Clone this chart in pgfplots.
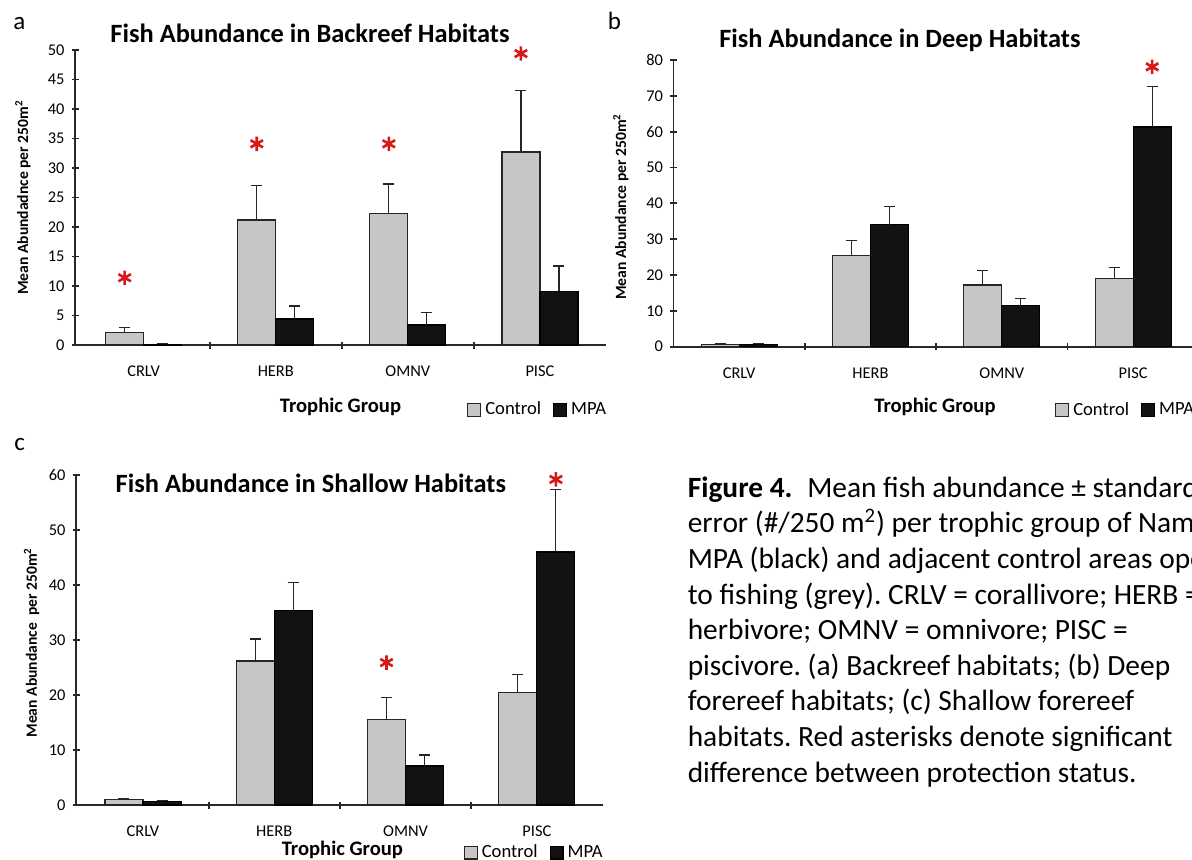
\documentclass[border=0pt]{standalone}
\usepackage{fontspec}
\setmainfont{Carlito}
\usepackage{pgfplots}
\pgfplotsset{compat=1.18}
\usepackage{pgfplotstable}
\frenchspacing

\definecolor{ctrl}{RGB}{198,198,198}
\definecolor{mpa}{RGB}{18,18,18}
\definecolor{star}{RGB}{215,25,25}
\definecolor{axisc}{RGB}{40,40,40}

% Backreef
\pgfplotstableread{
x c ce m me
0 2.1 0.8 0.15 0.05
1 21.2 5.9 4.4 2.2
2 22.3 5.0 3.4 2.1
3 32.7 10.4 9.1 4.3
}\dataA
% Deep
\pgfplotstableread{
x c ce m me
0 0.7 0.3 0.6 0.4
1 25.5 4.2 34.0 5.1
2 17.2 4.0 11.4 2.1
3 19.0 3.0 61.3 11.3
}\dataB
% Shallow
\pgfplotstableread{
x c ce m me
0 1.0 0.2 0.6 0.2
1 26.2 4.0 35.3 5.1
2 15.6 4.0 7.1 2.0
3 20.5 3.2 46.0 11.3
}\dataC

\pgfplotsset{
  fishstyle/.style={
    scale only axis,
    axis lines=left,
    axis line style={-, line width=0.9pt, draw=axisc},
    tick align=center,
    major tick length=3.5pt,
    tick style={line width=0.9pt, draw=axisc},
    xtick={0.5,1.5,2.5}, xticklabels={},
    extra x ticks={0,1,2,3},
    extra x tick labels={CRLV,HERB,OMNV,PISC},
    extra x tick style={tick style={draw=none}},
    xmax=3.5,
    ymin=0,
    clip=false,
    ticklabel style={font=\fontsize{8.2}{9}\selectfont},
    /pgf/number format/assume math mode=true,
    xticklabel style={anchor=base, yshift=-14pt},
    ylabel style={font=\bfseries\fontsize{7.8}{9}\selectfont, anchor=center},
    xlabel style={font=\bfseries\fontsize{10.3}{12}\selectfont, anchor=base},
    title style={font=\bfseries\fontsize{13.2}{15}\selectfont, anchor=base, yshift=-6pt},
    legend style={draw=none, fill=none, anchor=west, inner sep=0pt,
      legend columns=2, font=\fontsize{9.3}{11}\selectfont,
      /tikz/every even column/.append style={column sep=4pt}},
  },
  ctrlbar/.style={ybar, bar width=19pt, bar shift=-9.5pt, fill=ctrl, draw=black!85, line width=0.6pt,
    legend image code/.code={\draw[##1, line width=0.6pt] (0pt,-3.2pt) rectangle (6.4pt,3.2pt);}},
  mpabar/.style={ybar, bar width=19pt, bar shift=9.5pt, fill=mpa, draw=black, line width=0.6pt,
    legend image code/.code={\draw[##1, line width=0.6pt] (0pt,-3.2pt) rectangle (6.4pt,3.2pt);}},
  errs/.style={draw=none, mark=none, forget plot,
    error bars/.cd, y dir=plus, y explicit,
    error bar style={line width=0.6pt, draw=black!85, solid},
    error mark options={rotate=90, mark size=2.75pt, line width=0.6pt, draw=black!85}},
  stars/.style={only marks, mark=asterisk, mark size=3.6pt, mark options={draw=star, line width=1.3pt}, forget plot},
}

\begin{document}
\begin{tikzpicture}
\useasboundingbox (0,0) rectangle (596pt,429.5pt);
\clip (0,0) rectangle (596pt,429.5pt);

% ---------- panel a ----------
\begin{axis}[fishstyle,
  at={(37.5pt,257pt)}, anchor=south west,
  width=265.5pt, height=147.5pt,
  xmin=-0.52, ymax=50, ytick={0,5,...,50},
  title={Fish Abundance in Backreef Habitats},
  title style={at={(axis description cs:0.4426,1.0247)}},
  ylabel={Mean Abundadnce per 250m\textsuperscript{2}},
  ylabel style={at={(axis description cs:-0.098,0.5)}},
  xlabel={Trophic Group},
  xlabel style={at={(axis description cs:0.5,-0.2295)}},
  legend style={at={(axis description cs:0.738,-0.22)}},
]
\addplot[ctrlbar] table[x=x, y=c] {\dataA};
\addplot[mpabar] table[x=x, y=m] {\dataA};
\addplot[errs] table[x expr=\thisrow{x}-0.144, y=c, y error=ce] {\dataA};
\addplot[errs] table[x expr=\thisrow{x}+0.144, y=m, y error=me] {\dataA};
\addplot[stars] coordinates {(-0.144,11.4) (0.856,34.1) (1.856,34.1) (2.856,49.4)};
\legend{Control, MPA}
\end{axis}

% ---------- panel b ----------
\begin{axis}[fishstyle,
  at={(336.75pt,256.15pt)}, anchor=south west,
  width=262.65pt, height=143.35pt,
  xmin=-0.5, ymax=80, ytick={0,10,...,80},
  title={Fish Abundance in Deep Habitats},
  title style={at={(axis description cs:0.431,1.0429)}},
  ylabel={Mean Abundance per 250m\textsuperscript{2}},
  ylabel style={at={(axis description cs:-0.1003,0.488)}},
  xlabel={Trophic Group},
  xlabel style={at={(axis description cs:0.4978,-0.2302)}},
  legend style={at={(axis description cs:0.726,-0.221)}},
]
\addplot[ctrlbar] table[x=x, y=c] {\dataB};
\addplot[mpabar] table[x=x, y=m] {\dataB};
\addplot[errs] table[x expr=\thisrow{x}-0.145, y=c, y error=ce] {\dataB};
\addplot[errs] table[x expr=\thisrow{x}+0.145, y=m, y error=me] {\dataB};
\addplot[stars] coordinates {(3.145,78.1)};
\legend{Control, MPA}
\end{axis}

% ---------- panel c ----------
\begin{axis}[fishstyle,
  at={(38pt,27pt)}, anchor=south west,
  width=263.25pt, height=165pt,
  xmin=-0.51, ymax=60, ytick={0,10,...,60},
  title={Fish Abundance in Shallow Habitats},
  title style={at={(axis description cs:0.446,0.9464)}},
  ylabel={Mean Abundance\ \ per 250m\textsuperscript{2}},
  ylabel style={at={(axis description cs:-0.0843,0.492)}},
  xlabel={Trophic Group},
  xlabel style={at={(axis description cs:0.506,-0.1515)}},
  legend style={at={(axis description cs:0.7358,-0.1445)}},
]
\addplot[ctrlbar] table[x=x, y=c] {\dataC};
\addplot[mpabar] table[x=x, y=m] {\dataC};
\addplot[errs] table[x expr=\thisrow{x}-0.145, y=c, y error=ce] {\dataC};
\addplot[errs] table[x expr=\thisrow{x}+0.145, y=m, y error=me] {\dataC};
\addplot[stars] coordinates {(1.855,25.9) (3.145,59.2)};
\legend{Control, MPA}
\end{axis}

% panel letters
\node[anchor=base west, inner sep=0pt, font=\fontsize{12.5}{14}\selectfont] at (6.5pt,414.5pt) {a};
\node[anchor=base west, inner sep=0pt, font=\fontsize{12.5}{14}\selectfont] at (303.75pt,414.5pt) {b};
\node[anchor=base west, inner sep=0pt, font=\fontsize{12.5}{14}\selectfont] at (7pt,204.5pt) {c};

% caption
\begin{scope}[every node/.style={anchor=base west, inner sep=0pt, font=\fontsize{14.7}{17.8}\selectfont}]
\node at (343.7pt,180.85pt) {\textbf{Figure 4.}\enspace Mean fish abundance ± standard error};
\node at (343.7pt,163.05pt) {error (\#/250 m\textsuperscript{2}) per trophic group of Namena};
\node at (343.7pt,145.25pt) {MPA (black) and adjacent control areas open};
\node at (343.7pt,127.45pt) {to fishing (grey). CRLV = corallivore; HERB =};
\node at (343.7pt,109.65pt) {herbivore; OMNV = omnivore; PISC =};
\node at (343.7pt,91.85pt) {piscivore. (a) Backreef habitats; (b) Deep};
\node at (343.7pt,74.05pt) {forereef habitats; (c) Shallow forereef};
\node at (343.7pt,56.25pt) {habitats. Red asterisks denote significant};
\node at (343.7pt,38.45pt) {difference between protection status.};
\end{scope}
\end{tikzpicture}
\end{document}
